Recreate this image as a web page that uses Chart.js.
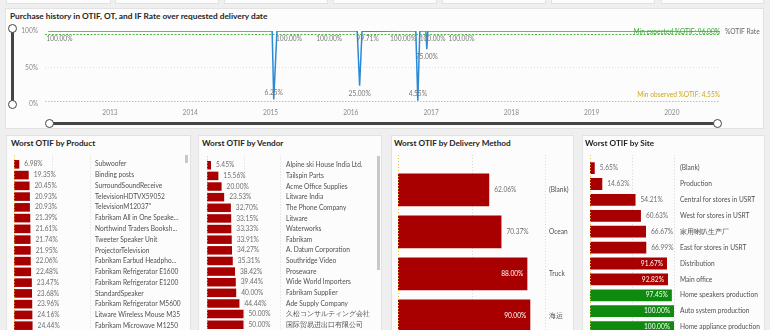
<!DOCTYPE html>
<html>
<head>
<meta charset="utf-8">
<title>OTIF dashboard</title>
<script src="https://cdn.jsdelivr.net/npm/chart.js@4.4.1/dist/chart.umd.min.js"></script>
<style>
  html, body { margin: 0; padding: 0; }
  body {
    width: 770px; height: 330px; overflow: hidden; position: relative;
    background: #efefef; font-family: Lato, "Open Sans", sans-serif;
  }
  .card { position: absolute; background: #fcfcfc; border: 1px solid #e2e2e2; box-sizing: border-box; }
  .title { position: absolute; font-weight: bold; color: #252423; white-space: nowrap; line-height: 12px; }
  canvas { position: absolute; }
  .rail { position: absolute; background: #444; }
  .knob { position: absolute; width: 9px; height: 9px; box-sizing: border-box; border: 1.5px solid #444; border-radius: 50%; background: #fff; }
  .thumb { position: absolute; background: #c8c8c8; width: 3px; }
</style>
</head>
<body>

<!-- tops of the KPI cards above -->
<div class="card" style="left:6px;top:-20px;width:105px;height:24px"></div>
<div class="card" style="left:115px;top:-20px;width:104px;height:24px"></div>
<div class="card" style="left:224px;top:-20px;width:104px;height:24px"></div>
<div class="card" style="left:333px;top:-20px;width:104px;height:24px"></div>
<div class="card" style="left:442px;top:-20px;width:104px;height:24px"></div>
<div class="card" style="left:551px;top:-20px;width:104px;height:24px"></div>
<div class="card" style="left:661px;top:-20px;width:103px;height:24px"></div>

<!-- history panel -->
<div class="card" style="left:5px;top:8px;width:759px;height:121px"></div>
<div class="title" style="left:10px;top:10px;font-size:8.3px">Purchase history in OTIF, OT, and IF Rate over requested delivery date</div>
<canvas id="historyChart" width="748" height="105" style="left:15px;top:20px"></canvas>
<div class="rail" style="left:11px;top:28px;width:3px;height:76px"></div>
<div class="knob" style="left:8px;top:23.5px"></div>
<div class="knob" style="left:8px;top:99.5px"></div>
<div class="rail" style="left:49px;top:121.5px;width:668px;height:3px"></div>
<div class="knob" style="left:44.5px;top:118.5px"></div>
<div class="knob" style="left:712.5px;top:118.5px"></div>

<!-- bottom panels -->
<div class="card" style="left:6px;top:135px;width:185px;height:210px"></div>
<div class="title" style="left:11px;top:137px;font-size:8.2px">Worst OTIF by Product</div>
<canvas id="productChart" width="180" height="190" style="left:6px;top:150px"></canvas>
<div class="thumb" style="left:185px;top:155px;height:8px"></div>

<div class="card" style="left:198px;top:135px;width:184px;height:210px"></div>
<div class="title" style="left:202px;top:137px;font-size:8.2px">Worst OTIF by Vendor</div>
<canvas id="vendorChart" width="178" height="190" style="left:198px;top:150px"></canvas>
<div class="thumb" style="left:377px;top:156px;height:114px"></div>

<div class="card" style="left:391px;top:135px;width:183px;height:210px"></div>
<div class="title" style="left:394px;top:137px;font-size:8.2px">Worst OTIF by Delivery Method</div>
<canvas id="methodChart" width="181" height="195" style="left:391px;top:150px"></canvas>

<div class="card" style="left:582px;top:135px;width:183px;height:210px"></div>
<div class="title" style="left:585px;top:137px;font-size:8.2px">Worst OTIF by Site</div>
<canvas id="siteChart" width="186" height="195" style="left:582px;top:150px"></canvas>

<script>
// OTIF rate over requested delivery date (x in fractional years)
const otifYears = [2012.23, 2012.37, 2015.02, 2015.04, 2015.08, 2015.23, 2015.73, 2016.08, 2016.11, 2016.14,
  2016.21, 2016.65, 2016.81, 2016.835, 2016.86, 2016.935, 2016.947, 2016.96, 2017.02, 2017.38, 2020.6];
const otifRate = [100, 100, 100, 6.25, 100, 100, 100, 100, 25, 100,
  99.71, 100, 100, 4.55, 100, 100, 75, 100, 100, 100, 100];
// points that carry a value label
const otifLabelled = [1, 3, 5, 6, 8, 10, 11, 13, 16, 18, 19];
const yearTicks = [2013, 2014, 2015, 2016, 2017, 2018, 2019, 2020];

const otifTarget = 96;     // min expected %OTIF
const otifObserved = 4.55; // min observed %OTIF

const products = ['Subwoofer', 'Binding posts', 'SurroundSoundReceive', 'TelevisionHDTVX59052', 'TelevisionM12037"',
  'Fabrikam All in One Speake...', 'Northwind Traders Booksh...', 'Tweeter Speaker Unit', 'ProjectorTelevision',
  'Fabrikam Earbud Headpho...', 'Fabrikam Refrigerator E1600', 'Fabrikam Refrigerator E1200', 'StandardSpeaker',
  'Fabrikam Refrigerator M5600', 'Litware Wireless Mouse M35', 'Fabrikam Microwave M1250'];
const productOtif = [6.98, 19.35, 20.45, 20.93, 20.93, 21.39, 21.61, 21.74, 21.95, 22.06, 22.48, 23.47, 23.68, 23.96, 24.16, 24.44];

const vendors = ['Alpine ski House India Ltd.', 'Tailspin Parts', 'Acme Office Supplies', 'Litware India',
  'The Phone Company', 'Litware', 'Waterworks', 'Fabrikam', 'A. Datum Corporation', 'Southridge Video',
  'Proseware', 'Wide World Importers', 'Fabrikam Supplier', 'Ade Supply Company', '久松コンサルティング会社',
  '国际贸易进出口有限公司'];
const vendorOtif = [5.45, 15.56, 20.00, 23.53, 32.70, 33.15, 33.33, 33.91, 34.27, 35.31, 38.42, 39.44, 40.00, 44.44, 50.00, 50.00];

const methods = ['(Blank)', 'Ocean', 'Truck', '海运'];
const methodOtif = [62.06, 70.37, 88.00, 90.00];

const sites = ['(Blank)', 'Production', 'Central for stores in USRT', 'West for stores in USRT', '家用喇叭生产厂',
  'East for stores in USRT', 'Distribution', 'Main office', 'Home speakers production', 'Auto system production',
  'Home appliance production'];
const siteOtif = [5.65, 14.63, 54.21, 60.63, 66.67, 66.99, 91.67, 92.82, 97.45, 100.00, 100.00];

const FONT = 'Lato, "Open Sans", sans-serif';
const RED = '#a80000';
const GREEN = '#0e8a0e';

// dotted gridlines at 50/100 % plus the gold line at 0, drawn a bit above the plot
const barGrid = {
  id: 'barGrid',
  beforeDatasetsDraw(chart, args, opts) {
    const { ctx, chartArea, scales } = chart;
    ctx.save();
    ctx.lineWidth = 1;
    ctx.setLineDash([1, 2]);
    ctx.strokeStyle = '#d8d8d8';
    [50, 100].forEach(v => {
      const x = Math.round(scales.x.getPixelForValue(v)) + 0.5;
      ctx.beginPath();
      ctx.moveTo(x, chartArea.top - opts.rise);
      ctx.lineTo(x, chartArea.bottom);
      ctx.stroke();
    });
    ctx.restore();
  },
  afterDatasetsDraw(chart, args, opts) {
    const { ctx, chartArea, scales } = chart;
    const x = Math.round(scales.x.getPixelForValue(0)) + 0.5;
    ctx.save();
    ctx.lineWidth = 1;
    ctx.setLineDash([1, 2]);
    ctx.strokeStyle = '#e2c341';
    ctx.beginPath();
    ctx.moveTo(x, chartArea.top - opts.rise);
    ctx.lineTo(x, chartArea.bottom);
    ctx.stroke();
    ctx.restore();
  }
};

// value labels: outside the bar end, or inside in white for long bars
const barLabels = {
  id: 'barLabels',
  afterDatasetsDraw(chart, args, opts) {
    const ctx = chart.ctx;
    const values = chart.data.datasets[0].data;
    ctx.save();
    ctx.font = '6.6px ' + FONT;
    ctx.textBaseline = 'middle';
    chart.getDatasetMeta(0).data.forEach((bar, i) => {
      const text = values[i].toFixed(2) + '%';
      if (values[i] >= 80) {
        ctx.fillStyle = '#ffffff';
        ctx.textAlign = 'right';
        ctx.fillText(text, bar.x - 4, bar.y);
      } else {
        ctx.fillStyle = '#6e6e6e';
        ctx.textAlign = 'left';
        ctx.fillText(text, bar.x + 5, bar.y);
      }
    });
    ctx.restore();
  }
};

function worstChart(id, labels, values, cfg) {
  new Chart(document.getElementById(id), {
    type: 'bar',
    data: {
      labels: labels,
      datasets: [{
        data: values,
        backgroundColor: values.map(v => v >= otifTarget ? GREEN : RED),
        barPercentage: cfg.bar,
        categoryPercentage: 1
      }]
    },
    options: {
      indexAxis: 'y',
      responsive: false,
      animation: false,
      layout: { padding: { left: cfg.left, top: cfg.top, bottom: cfg.bottom, right: 0 } },
      plugins: { legend: { display: false }, tooltip: { enabled: false }, barGrid: { rise: cfg.rise } },
      scales: {
        x: { display: false, min: 0, max: 100 },
        y: {
          position: 'right',
          grid: { display: false, drawTicks: false },
          border: { display: false },
          afterFit: s => { s.width = cfg.axis; },
          ticks: { autoSkip: false, padding: cfg.pad, color: '#505050', font: { family: FONT, size: 6.6 } }
        }
      }
    },
    plugins: [barGrid, barLabels]
  });
}

worstChart('productChart', products, productOtif, { left: 8, top: 8.5, bottom: 5.5, axis: 96, pad: 5, bar: 0.8, rise: 3.5 });
worstChart('vendorChart', vendors, vendorOtif, { left: 9, top: 8.5, bottom: 5.5, axis: 96, pad: 6, bar: 0.8, rise: 3.5 });
worstChart('methodChart', methods, methodOtif, { left: 7, top: 18.75, bottom: 6.25, axis: 27, pad: 4, bar: 0.78, rise: 13.75 });
worstChart('siteChart', sites, siteOtif, { left: 8, top: 10.15, bottom: 5.55, axis: 94, pad: 6, bar: 0.74, rise: 5 });

// constant lines, point labels and the series name for the history chart
const historyDecor = {
  id: 'historyDecor',
  beforeDatasetsDraw(chart) {
    const { ctx, chartArea: a, scales: { y } } = chart;
    ctx.save();
    ctx.lineWidth = 1;
    ctx.setLineDash([1, 2]);
    ctx.strokeStyle = '#dddddd';
    let py = Math.round(y.getPixelForValue(50)) + 0.5;
    ctx.beginPath(); ctx.moveTo(a.left, py); ctx.lineTo(a.right, py); ctx.stroke();

    ctx.setLineDash([2, 1.5]);
    ctx.strokeStyle = '#52b845';
    py = Math.round(y.getPixelForValue(otifTarget)) + 0.5;
    ctx.beginPath(); ctx.moveTo(a.left, py); ctx.lineTo(a.right, py); ctx.stroke();

    ctx.setLineDash([1.5, 1.5]);
    ctx.strokeStyle = '#e0c433';
    py = Math.round(y.getPixelForValue(otifObserved)) + 0.5;
    ctx.beginPath(); ctx.moveTo(a.left, py); ctx.lineTo(a.right, py); ctx.stroke();
    ctx.restore();
  },
  afterDatasetsDraw(chart) {
    const { ctx, chartArea: a, scales: { x, y } } = chart;
    ctx.save();
    ctx.font = '6.6px ' + FONT;
    ctx.textBaseline = 'middle';
    ctx.textAlign = 'right';
    ctx.fillStyle = '#3aa83a';
    ctx.fillText('Min expected %OTIF: ' + otifTarget.toFixed(2) + '%', a.right, y.getPixelForValue(otifTarget) - 2.5);
    ctx.fillStyle = '#c9a824';
    ctx.fillText('Min observed %OTIF: ' + otifObserved.toFixed(2) + '%', a.right, y.getPixelForValue(otifObserved) - 5.5);

    ctx.textAlign = 'center';
    ctx.fillStyle = '#777777';
    otifLabelled.forEach(i => {
      const v = otifRate[i];
      const px = x.getPixelForValue(otifYears[i]);
      const py = y.getPixelForValue(v);
      ctx.fillText(v.toFixed(2) + '%', px, v < 15 ? py - 6.5 : py + 8);
    });

    ctx.textAlign = 'left';
    ctx.fillStyle = '#666666';
    ctx.fillText('%OTIF Rate', a.right + 5, a.top + 1);
    ctx.restore();
  }
};

new Chart(document.getElementById('historyChart'), {
  type: 'line',
  data: {
    datasets: [{
      label: '%OTIF Rate',
      data: otifYears.map((yr, i) => ({ x: yr, y: otifRate[i] })),
      borderColor: '#2a8ad6',
      borderWidth: 1.5,
      pointRadius: 0,
      tension: 0
    }]
  },
  options: {
    responsive: false,
    animation: false,
    layout: { padding: { left: 0, top: 8, right: 43, bottom: 0 } },
    plugins: { legend: { display: false }, tooltip: { enabled: false } },
    scales: {
      x: {
        type: 'linear',
        min: 2012.19,
        max: 2020.6,
        afterFit: s => { s.height = 21; },
        afterBuildTicks: s => { s.ticks = yearTicks.map(v => ({ value: v })); },
        grid: { display: false, drawTicks: false },
        border: { display: false },
        ticks: { padding: 5, maxRotation: 0, autoSkip: false, color: '#8a8a8a', font: { family: FONT, size: 6.6 },
          callback: v => String(v) }
      },
      y: {
        min: 0,
        max: 100,
        afterFit: s => { s.width = 30; },
        grid: { display: false, drawTicks: false },
        border: { display: false },
        ticks: { stepSize: 50, padding: 7, color: '#8a8a8a', font: { family: FONT, size: 6.6 },
          callback: v => v + '%' }
      }
    }
  },
  plugins: [historyDecor]
});
</script>
</body>
</html>
